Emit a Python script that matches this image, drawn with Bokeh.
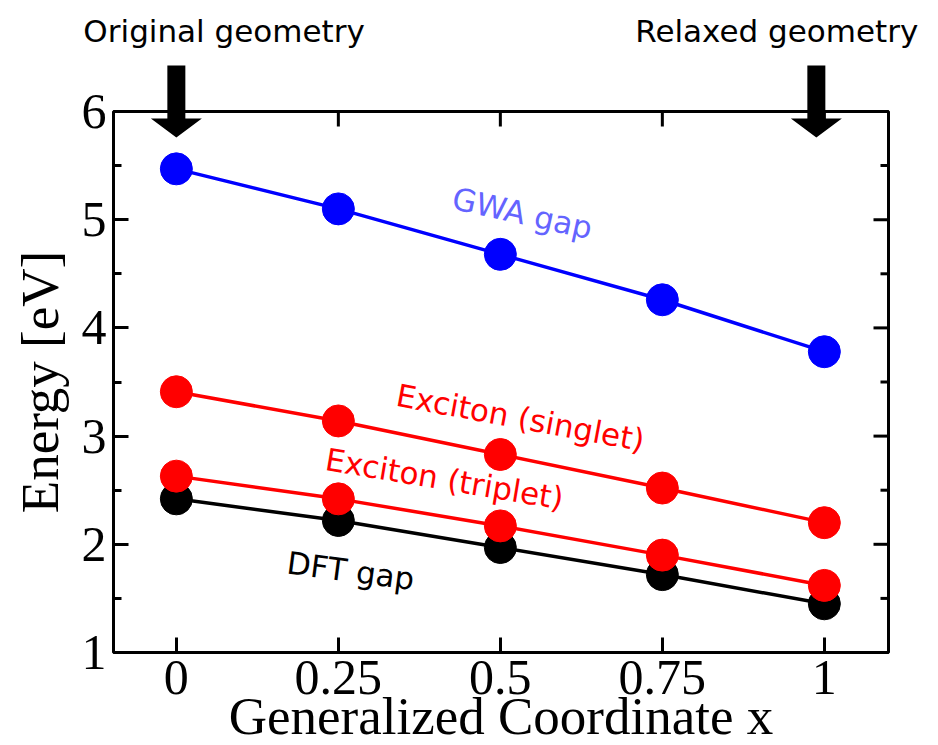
import math
from bokeh.plotting import figure
from bokeh.models import ColumnDataSource, FixedTicker, Range1d
from bokeh.core.properties import value
from bokeh.embed import file_html
from bokeh.resources import INLINE

# ---- data ----
x_vals = [0, 0.25, 0.5, 0.75, 1]
gwa_gap = [5.47, 5.10, 4.68, 4.26, 3.78]
exciton_singlet = [3.41, 3.14, 2.83, 2.52, 2.20]
exciton_triplet = [2.63, 2.42, 2.17, 1.90, 1.62]
dft_gap = [2.42, 2.22, 1.97, 1.72, 1.45]

x_ticks = [0, 0.25, 0.5, 0.75, 1]
x_tick_labels = ["0", "0.25", "0.5", "0.75", "1"]
y_ticks = [1, 2, 3, 4, 5, 6]
y_minor_ticks = [1.5, 2.5, 3.5, 4.5, 5.5]

x_title = "Generalized Coordinate x"
y_title = "Energy [eV]"

series_values = [dft_gap, exciton_triplet, exciton_singlet, gwa_gap]
series_colors = ["black", "red", "red", "blue"]

label_texts = ["DFT gap", "Exciton (triplet)", "Exciton (singlet)", "GWA gap"]
label_colors = ["black", "red", "red", "#6464ff"]
label_x = [0.269, 0.414, 0.531, 0.534]
label_y = [1.755, 2.605, 3.17, 5.06]
label_angle_deg = [-7.5, -9.5, -10.5, -12.5]

top_texts = ["Original geometry", "Relaxed geometry"]
top_text_x = [-0.1435, 1.145]
top_text_align = ["left", "right"]
top_text_y = 6.745

# ---- layout constants (pixels) ----
X0, X1 = -0.097, 1.099
Y0, Y1 = 1, 6
W, H = 938, 745
BL, BR, BB, BT = 113, 50, 93, 111
ppx = (W - BL - BR) / (X1 - X0)
ppy = (H - BB - BT) / (Y1 - Y0)

SERIF = "Liberation Serif"
SANS = "DejaVu Sans"

# The plotting area covers the whole canvas so that the arrows and the texts
# above the box are not clipped; the axes are pinned to the box edges.
p = figure(width=W, height=H,
           x_range=Range1d(X0 - BL / ppx, X1 + BR / ppx),
           y_range=Range1d(Y0 - BB / ppy, Y1 + BT / ppy),
           output_backend="svg", toolbar_location=None,
           min_border=0, min_border_left=0, min_border_right=0,
           min_border_top=0, min_border_bottom=0)
p.xgrid.visible = False
p.ygrid.visible = False
p.outline_line_color = None


def style_axis(ax):
    ax.axis_line_color = None
    ax.major_tick_in = 15
    ax.major_tick_out = 0
    ax.minor_tick_in = 8
    ax.minor_tick_out = 0
    ax.major_tick_line_width = 3
    ax.minor_tick_line_width = 3
    ax.major_tick_line_color = "black"
    ax.minor_tick_line_color = "black"
    ax.major_label_text_font = SERIF
    ax.major_label_text_font_size = "50px"
    ax.major_label_text_color = "black"
    ax.axis_label_text_font = SERIF
    ax.axis_label_text_font_size = "53px"
    ax.axis_label_text_font_style = "normal"
    ax.axis_label_text_color = "black"


xa = p.xaxis[0]
xa.ticker = FixedTicker(ticks=x_ticks, minor_ticks=[])
xa.major_label_overrides = {t: s for t, s in zip(x_ticks, x_tick_labels)}
xa.axis_label = x_title
xa.fixed_location = Y0
xa.bounds = (X0, X1)
style_axis(xa)
xa.major_label_standoff = 8
xa.axis_label_standoff = -10

ya = p.yaxis[0]
ya.ticker = FixedTicker(ticks=y_ticks, minor_ticks=y_minor_ticks)
ya.axis_label = y_title
ya.fixed_location = X0
ya.bounds = (Y0, Y1)
style_axis(ya)
ya.major_label_standoff = 7
ya.axis_label_standoff = 10

# box around the plotting area
p.quad(left=[X0], right=[X1], bottom=[Y0], top=[Y1],
       fill_color=None, line_color="black", line_width=3)

# mirrored ticks on the top and right edges
n_x = len(x_ticks)
p.segment(x0=x_ticks, y0=[Y1] * n_x, x1=x_ticks, y1=[Y1 - 15 / ppy] * n_x,
          line_color="black", line_width=3)
n_y = len(y_ticks)
p.segment(x0=[X1] * n_y, y0=y_ticks, x1=[X1 - 15 / ppx] * n_y, y1=y_ticks,
          line_color="black", line_width=3)
n_m = len(y_minor_ticks)
p.segment(x0=[X1] * n_m, y0=y_minor_ticks, x1=[X1 - 8 / ppx] * n_m, y1=y_minor_ticks,
          line_color="black", line_width=3)

# ---- series ----
for vals, col in zip(series_values, series_colors):
    src = ColumnDataSource(dict(x=x_vals, y=vals))
    p.line("x", "y", source=src, line_color=col, line_width=3.5)
    p.scatter("x", "y", source=src, size=32, fill_color=col, line_color=col, marker="circle")

# ---- in-plot labels ----
lab_src = ColumnDataSource(dict(x=label_x, y=label_y, text=label_texts, color=label_colors,
                                angle=[math.radians(a) for a in label_angle_deg]))
p.text(x="x", y="y", text="text", angle="angle", text_color="color", source=lab_src,
       text_font=value(SANS), text_font_size="31px", text_align="center", text_baseline="middle")


# ---- arrows ----
def arrow_shape(xc):
    hs, hh = 9 / ppx, 25.5 / ppx
    ytop = Y1 + (111 - 65) / ppy
    ybase = Y1 - (118 - 111) / ppy
    ytip = Y1 - (137 - 111) / ppy
    xs = [xc - hs, xc + hs, xc + hs, xc + hh, xc, xc - hh, xc - hs]
    ys = [ytop, ytop, ybase, ybase, ytip, ybase, ybase]
    return xs, ys


arrow_x = [x_vals[0], x_vals[-1] - 8 / ppx]
arrows = [arrow_shape(a) for a in arrow_x]
p.patches(xs=[a[0] for a in arrows], ys=[a[1] for a in arrows],
          fill_color="black", line_color=None)

# ---- texts above the box ----
top_src = ColumnDataSource(dict(x=top_text_x, y=[top_text_y] * len(top_texts),
                                text=top_texts, align=top_text_align))
p.text(x="x", y="y", text="text", text_align="align", source=top_src,
       text_font=value(SANS), text_font_size="31px", text_baseline="alphabetic",
       text_color="black")

open("out.html", "w").write(file_html(p, INLINE))
